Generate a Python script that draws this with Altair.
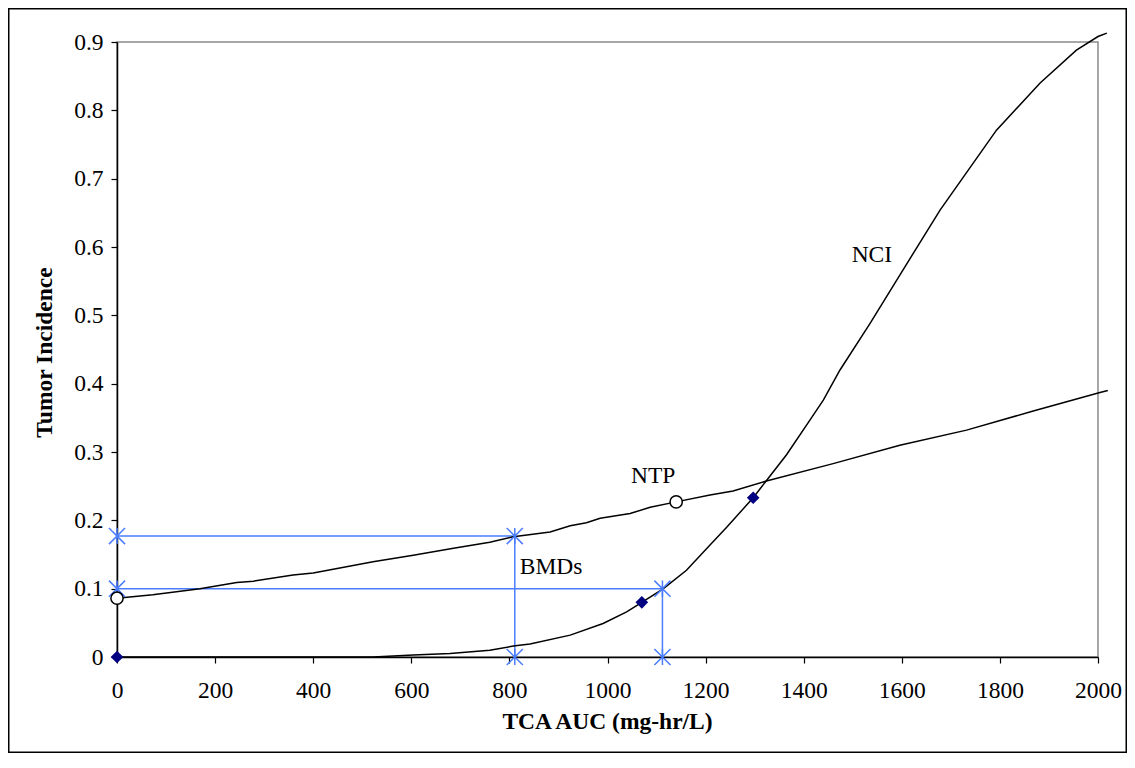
import altair as alt
import pandas as pd

# ---- data ----
ntp_x = [0, 73, 169, 244, 278, 359, 400, 522, 604, 686, 760, 808, 883, 924, 957, 985,
         1046, 1087, 1140, 1209, 1256, 1324, 1460, 1596, 1732, 1868, 2004, 2020]
ntp_y = [0.086, 0.091, 0.100, 0.109, 0.111, 0.120, 0.123, 0.1395, 0.149, 0.159, 0.168, 0.176,
         0.183, 0.192, 0.1965, 0.203, 0.210, 0.219, 0.227, 0.237, 0.243, 0.2575, 0.283, 0.310,
         0.332, 0.360, 0.387, 0.390]

nci_x = [0, 100, 200, 300, 400, 522, 604, 679, 760, 808, 842, 924, 991, 1039, 1070, 1114,
         1161, 1209, 1243, 1297, 1325, 1365, 1413, 1440, 1474, 1535, 1590, 1678, 1793, 1882,
         1956, 2000, 2018]
nci_y = [0, 0, 0, 0, 0, 0, 0.003, 0.005, 0.010, 0.016, 0.019, 0.032, 0.049, 0.066, 0.080, 0.100,
         0.127, 0.164, 0.190, 0.233, 0.259, 0.296, 0.347, 0.376, 0.420, 0.488, 0.552, 0.654,
         0.771, 0.840, 0.888, 0.908, 0.913]

ntp_obs_x = [0, 1140]
ntp_obs_y = [0.086, 0.227]
nci_obs_x = [0, 1070, 1297]
nci_obs_y = [0, 0.080, 0.233]

bmd_x = [811, 1112]
bmd_y = [0.177, 0.100]

label_text = ["NCI", "NTP", "BMDs"]
label_x = [1539, 1093, 885]
label_y = [0.588, 0.265, 0.132]

x_ticks = [0, 200, 400, 600, 800, 1000, 1200, 1400, 1600, 1800, 2000]
y_ticks = [0, 0.1, 0.2, 0.3, 0.4, 0.5, 0.6, 0.7, 0.8, 0.9]

# ---- tables ----
curves = pd.concat([
    pd.DataFrame({"x": ntp_x, "y": ntp_y, "s": "NTP"}),
    pd.DataFrame({"x": nci_x, "y": nci_y, "s": "NCI"}),
])
ntp_obs = pd.DataFrame({"x": ntp_obs_x, "y": ntp_obs_y})
nci_obs = pd.DataFrame({"x": nci_obs_x, "y": nci_obs_y})
seg_rows = []
star_rows = []
for bx, by in zip(bmd_x, bmd_y):
    seg_rows.append({"x": 0, "y": by, "x2": bx, "y2": by})
    seg_rows.append({"x": bx, "y": by, "x2": bx, "y2": 0})
    star_rows += [{"x": 0, "y": by}, {"x": bx, "y": by}, {"x": bx, "y": 0}]
segs = pd.DataFrame(seg_rows)
stars = pd.DataFrame(star_rows)
labels = pd.DataFrame({"t": label_text, "x": label_x, "y": label_y})

FONT = "Liberation Serif"
BLUE = "#4a7dff"
FS = 23.5

xs = alt.Scale(domain=[0, 2000], nice=False, zero=False)
ys = alt.Scale(domain=[0, 0.9], nice=False)

xenc = alt.X("x:Q", scale=xs, axis=alt.Axis(
    values=x_ticks, format="d", title="TCA AUC (mg-hr/L)", grid=False, labelPadding=15,
    labelFlush=False, labelOverlap=False,
    titleX=490, titleY=64, titleBaseline="middle", titleAlign="center"))
yenc = alt.Y("y:Q", scale=ys, axis=alt.Axis(
    values=y_ticks, format=".1~f", title="Tumor Incidence", grid=False, labelPadding=8,
    labelFlush=False, labelOverlap=False,
    titleX=-73, titleY=310, titleAngle=-90, titleBaseline="middle", titleAlign="center"))

frame = alt.Chart(pd.DataFrame({"k": [0]})).mark_rect(
    fill=None, stroke="black", strokeWidth=1.5).encode(
    x=alt.value(-108.25), x2=alt.value(1009.25), y=alt.value(-33.25), y2=alt.value(710.25))

base_curves = alt.Chart(curves).mark_line(color="black", strokeWidth=1.5).encode(
    x=xenc, y=yenc, detail="s:N")

rules = alt.Chart(segs).mark_rule(color=BLUE, strokeWidth=1.5).encode(
    x="x:Q", y="y:Q", x2="x2:Q", y2="y2:Q")

star_path = "M-1,-1L1,1M-1,1L1,-1M0,-1L0,1"
star_marks = alt.Chart(stars).mark_point(
    shape=star_path, size=260, color=BLUE, strokeWidth=1.5, filled=False, opacity=1).encode(
    x="x:Q", y="y:Q")

circles = alt.Chart(ntp_obs).mark_point(
    shape="circle", size=150, color="black", fill="white", filled=False,
    strokeWidth=1.5, opacity=1, fillOpacity=1).encode(x="x:Q", y="y:Q")

diamonds = alt.Chart(nci_obs).mark_point(
    shape="diamond", size=160, color="#000080", filled=True, opacity=1).encode(
    x="x:Q", y="y:Q")

texts = alt.Chart(labels).mark_text(
    font=FONT, fontSize=FS, color="black", align="center", baseline="middle").encode(
    x="x:Q", y="y:Q", text="t:N")

chart = alt.layer(frame, rules, base_curves, star_marks, circles, diamonds, texts).properties(
    width=981, height=615,
    autosize=alt.AutoSizeParams(type="none"),
    padding={"left": 109, "top": 34, "right": 29, "bottom": 96},
    background="white",
).configure_view(
    stroke="#8a8a8a", strokeWidth=1.5
).configure_axis(
    labelFont=FONT, labelFontSize=FS, labelColor="black",
    titleFont=FONT, titleFontSize=FS, titleFontWeight="bold", titleColor="black",
    domainColor="black", domainWidth=1.5, tickColor="black", tickSize=6, tickWidth=1.2,
)

chart.save("out.html", embed_options={"renderer": "svg", "actions": False})
